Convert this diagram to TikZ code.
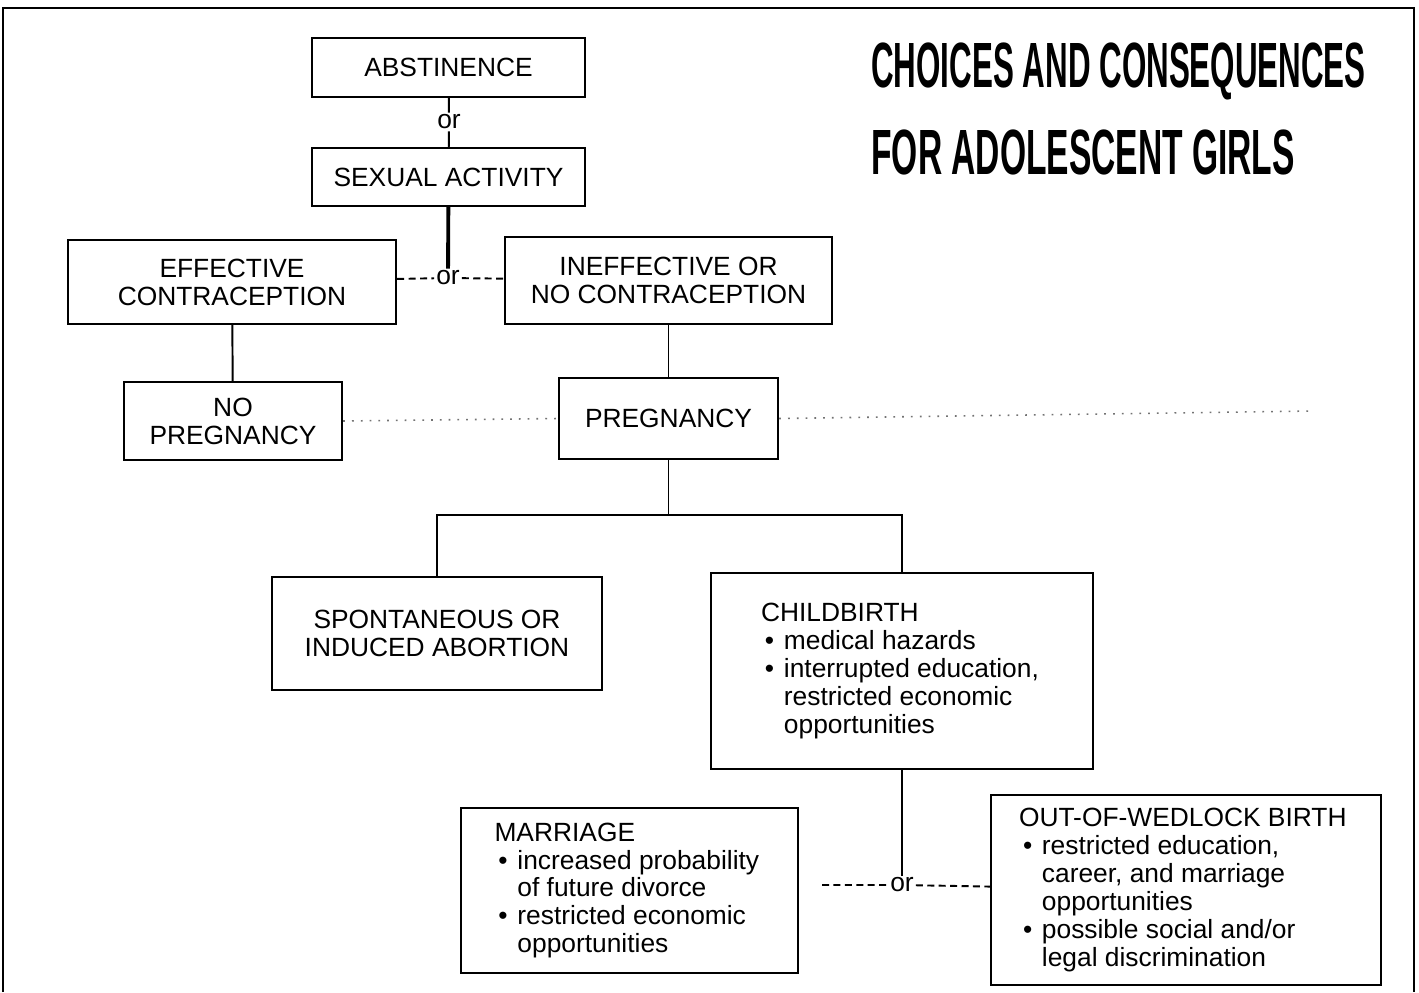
\documentclass[tikz,border=0pt]{standalone}
\usepackage{fontspec}
\setmainfont{Liberation Sans}
\usetikzlibrary{positioning}
\newcommand\bul{\makebox[0.87em][l]{\hspace{0.15em}•}}
\newcommand\ind{\hspace*{0.87em}}
\begin{document}
\begin{tikzpicture}[x=0.02cm,y=-0.02cm,
    caja/.style={draw,line width=1.4pt,inner sep=0pt,align=center,font=\fontsize{15}{15.9}\selectfont},
    lista/.style={caja,align=flush left},
    linea/.style={line width=1.1pt},
    guion/.style={line width=1.1pt,dash pattern=on 4pt off 2.5pt},
    puntos/.style={line width=0.9pt,dash pattern=on 1pt off 4pt,black!55},
    o/.style={inner sep=1pt,font=\fontsize{15}{15.9}\selectfont}]
    \useasboundingbox (0,0) rectangle (1419,992);

    % marco
    \draw[line width=1.6pt] (3,992) -- (3,8) -- (1414,8) -- (1414,992);

    % titulo
    \node[anchor=west,inner sep=0pt] (tit1) at (871,71)
        {\scalebox{0.49}[1]{\fontsize{36.4}{40}\selectfont\bfseries CHOICES AND CONSEQUENCES}};
    \node[anchor=west,inner sep=0pt] (tit2) at (871,152)
        {\scalebox{0.525}[1]{\fontsize{36.4}{40}\selectfont\bfseries FOR ADOLESCENT GIRLS}};

    % cajas
    \node[caja,minimum width=5.46cm,minimum height=1.18cm] (abst) at (448.5,67.5) {ABSTINENCE};
    \node[caja,minimum width=5.46cm,minimum height=1.16cm] (sex) at (448.5,177) {SEXUAL ACTIVITY};
    \node[caja,minimum width=6.56cm,minimum height=1.68cm] (eff) at (232,282) {EFFECTIVE\\CONTRACEPTION};
    \node[caja,minimum width=6.54cm,minimum height=1.74cm] (ineff) at (668.5,280.5) {INEFFECTIVE OR\\NO CONTRACEPTION};
    \node[caja,minimum width=4.36cm,minimum height=1.56cm] (nopreg) at (233,421) {NO\\PREGNANCY};
    \node[caja,minimum width=4.38cm,minimum height=1.62cm] (preg) at (668.5,418.5) {PREGNANCY};
    \node[caja,minimum width=6.60cm,minimum height=2.26cm] (abort) at (437,633.5) {SPONTANEOUS OR\\INDUCED ABORTION};
    \node[lista,text width=5.64cm,minimum width=7.64cm,minimum height=3.92cm] (child) at (902,671)
        {CHILDBIRTH\\\bul medical hazards\\\bul interrupted education,\\\ind restricted economic\\\ind opportunities};
    \node[lista,text width=5.40cm,minimum width=6.74cm,minimum height=3.30cm] (marr) at (629.5,890.5)
        {MARRIAGE\\\bul increased probability\\\ind of future divorce\\\bul restricted economic\\\ind opportunities};
    \node[lista,text width=6.68cm,minimum width=7.80cm,minimum height=3.80cm] (wed) at (1186,890)
        {OUT-OF-WEDLOCK BIRTH\\\bul restricted education,\\\ind career, and marriage\\\ind opportunities\\\bul possible social and/or\\\ind legal discrimination};

    % or
    \node[o] (or1) at (449,122) {or};
    \node[o] (or2) at (448,278) {or};
    \node[o] (or3) at (902,885) {or};
    \coordinate (split) at (668.5,515);
    \coordinate (izq) at (822,885);
    \coordinate (der) at (1312,411);

    % conexiones
    \draw[linea] (abst) -- (or1) -- (sex);
    \draw[line width=2.2pt] (sex) -- (or2);
    \draw[guion] (eff) -- (or2) -- (ineff);
    \draw[linea] (eff) -- (nopreg);
    \draw[linea] (ineff) -- (preg);
    \draw[linea] (preg) -- (split);
    \draw[linea] (abort.north) |- (split) -| (child.north);
    \draw[linea] (child) -- (or3);
    \draw[guion] (izq) -- (or3) -- (wed);
    \draw[puntos] (nopreg.east) -- (preg.west);
    \draw[puntos] (preg.east) -- (der);
\end{tikzpicture}
\end{document}
